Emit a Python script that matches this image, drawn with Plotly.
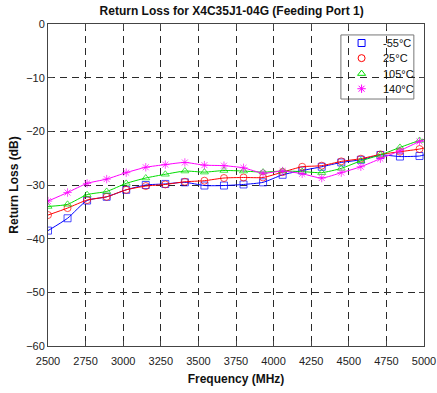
import plotly.graph_objects as go

freq = [2500, 2630, 2760, 2890, 3020, 3150, 3280, 3410, 3540, 3670,
        3800, 3930, 4060, 4190, 4320, 4450, 4580, 4710, 4840, 4970, 5000]
rl_m55 = [-38.5, -36.2, -32.9, -32.2, -30.9, -30.0, -29.8, -29.5, -30.1, -30.1,
          -29.9, -29.5, -28.1, -27.3, -26.6, -25.8, -25.3, -24.4, -24.7, -24.6, -24.4]
rl_25 = [-35.6, -34.3, -32.8, -32.2, -30.9, -30.2, -29.9, -29.4, -29.2, -28.7,
         -28.6, -28.6, -27.6, -26.6, -26.4, -25.6, -25.1, -24.3, -23.8, -23.3, -23.1]
rl_105 = [-34.0, -33.6, -31.8, -31.2, -29.7, -28.7, -28.0, -27.4, -27.6, -27.3,
          -27.4, -27.6, -27.4, -27.5, -27.7, -26.9, -25.5, -24.4, -23.0, -21.7, -21.5]
rl_140 = [-33.0, -31.4, -29.7, -28.9, -27.7, -26.7, -26.2, -25.8, -26.3, -26.4,
          -26.8, -27.8, -27.4, -27.9, -28.7, -27.7, -26.6, -25.1, -23.6, -21.9, -21.6]

series_names = ["-55°C", "25°C", "105°C", "140°C"]
series_vals = [rl_m55, rl_25, rl_105, rl_140]
series_colors = ["#0000FF", "#FF0000", "#00DD00", "#FF00FF"]
series_symbols = ["square-open", "circle-open", "triangle-up-open", "asterisk-open"]

x_ticks = [2500, 2750, 3000, 3250, 3500, 3750, 4000, 4250, 4500, 4750, 5000]
y_ticks = [0, -10, -20, -30, -40, -50, -60]
x_range = [2500, 5000]
y_range = [-60, 0]

fig = go.Figure()
msizes = [7] * (len(freq) - 1) + [0]
for name, vals, color, sym in zip(series_names, series_vals, series_colors, series_symbols):
    fig.add_trace(go.Scatter(
        x=freq, y=vals, mode="lines+markers", name=name, showlegend=False,
        line=dict(color=color, width=1, shape="spline", smoothing=0.6),
        marker=dict(symbol=sym, size=msizes, color=color, line=dict(width=1, color=color)),
    ))

# Compact MATLAB-style legend (positions as fractions of the plot area)
leg_left, leg_right, leg_top, leg_bottom = 0.779, 0.973, 0.966, 0.767
leg_marker_x = 0.834
leg_text_x = 0.886
row_y = [0.941, 0.894, 0.846, 0.799]
fig.add_shape(type="rect", xref="paper", yref="paper",
              x0=leg_left, x1=leg_right, y0=leg_bottom, y1=leg_top,
              line=dict(color="#777777", width=1), fillcolor="white", layer="between")
for i, (name, color, sym) in enumerate(zip(series_names, series_colors, series_symbols)):
    mx = x_range[0] + leg_marker_x * (x_range[1] - x_range[0])
    my = y_range[0] + row_y[i] * (y_range[1] - y_range[0])
    fig.add_trace(go.Scatter(
        x=[mx], y=[my], mode="markers", showlegend=False, hoverinfo="skip",
        marker=dict(symbol=sym, size=7, color=color, line=dict(width=1, color=color)),
    ))
    fig.add_annotation(x=leg_text_x, y=row_y[i], xref="paper", yref="paper",
                       text=name, showarrow=False, xanchor="left", yanchor="middle",
                       font=dict(size=11, color="#111111"))

axis_common = dict(
    showgrid=True, gridcolor="#2a2a2a", gridwidth=1, griddash="7px,5px",
    showline=True, linecolor="#444444", linewidth=1, mirror="ticks",
    ticks="inside", ticklen=5, tickcolor="#444444",
    zeroline=False, tickfont=dict(size=11, color="#222222"),
    automargin=False,
)

fig.update_layout(
    width=437, height=393,
    margin=dict(l=48, r=13, t=24, b=47),
    paper_bgcolor="white", plot_bgcolor="white",
    font=dict(family="Liberation Sans, Arial, sans-serif", color="#111111"),
    title=dict(text="<b>Return Loss for X4C35J1-04G (Feeding Port 1)</b>",
               x=0.53, xanchor="center", y=0.972, yanchor="middle",
               font=dict(size=12, color="#111111"), automargin=False),
    xaxis=dict(range=x_range, tickvals=x_ticks, ticklabelstandoff=5,
               title=dict(text="<b>Frequency (MHz)</b>", font=dict(size=12), standoff=8),
               **axis_common),
    yaxis=dict(range=y_range, tickvals=y_ticks,
               title=dict(text="<b>Return Loss (dB)</b>", font=dict(size=12), standoff=4),
               **axis_common),
    showlegend=False,
)

fig.write_html("out.html")
